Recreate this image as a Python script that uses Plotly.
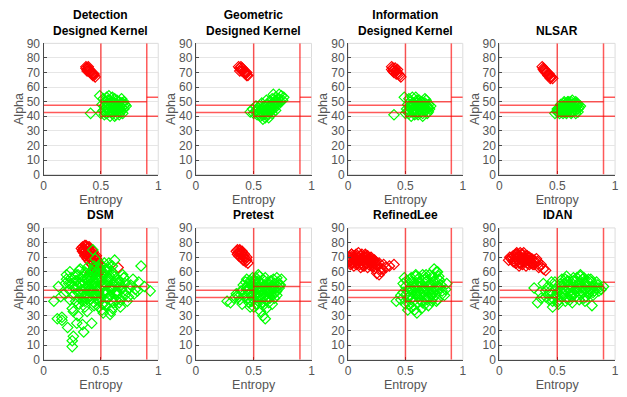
import plotly.graph_objects as go

# ---------------- data ----------------
titles = ["Detection<br>Designed Kernel", "Geometric<br>Designed Kernel",
          "Information<br>Designed Kernel", "NLSAR", "DSM", "Pretest", "RefinedLee", "IDAN"]
x_ticks = [0, 0.5, 1]
x_tick_labels = ["0", "0.5", "1"]
y_ticks = [0, 10, 20, 30, 40, 50, 60, 70, 80, 90]

# H/alpha zone boundaries: (H start, H end, alpha) and vertical H lines
h_bounds = [0.5, 0.9]
alpha_bounds = [(0.0, 0.5, 42.5), (0.0, 0.5, 47.5), (0.5, 0.9, 50.0), (0.5, 1.0, 40.0), (0.9, 1.0, 53.0)]

# Detection Designed Kernel
det_red_h = [0.37, 0.38, 0.39, 0.38, 0.40, 0.41, 0.40, 0.42, 0.43, 0.42, 0.44, 0.45, 0.39, 0.41, 0.43, 0.37, 0.44]
det_red_a = [74, 72, 73, 71, 71, 70, 72, 69, 69, 70, 68, 67, 74, 71, 68, 73, 69]
det_green_h = [0.52, 0.53, 0.54, 0.55, 0.56, 0.57, 0.58, 0.59, 0.60, 0.61, 0.62, 0.63, 0.64, 0.65, 0.66, 0.67,
               0.68, 0.69, 0.70, 0.71, 0.55, 0.58, 0.62, 0.66, 0.53, 0.57, 0.60, 0.64, 0.68, 0.72, 0.51, 0.56,
               0.61, 0.66, 0.54, 0.59, 0.63, 0.67, 0.70, 0.52, 0.41, 0.49, 0.50,
               0.53, 0.55, 0.57, 0.59, 0.61, 0.63, 0.65, 0.67, 0.69, 0.56, 0.60, 0.64, 0.68, 0.54, 0.58, 0.62,
               0.66, 0.70, 0.57, 0.63]
det_green_a = [44, 47, 50, 42, 45, 48, 51, 43, 46, 49, 52, 41, 44, 47, 50, 43,
               46, 49, 45, 48, 53, 40, 40, 41, 41, 54, 53, 51, 52, 47, 48, 51,
               44, 45, 46, 47, 48, 47, 50, 52, 42, 54, 42,
               43, 46, 43, 50, 46, 44, 50, 45, 42, 49, 42, 48, 49, 44, 47, 49,
               43, 47, 45, 46]

# Geometric Designed Kernel
geo_red_h = [0.37, 0.38, 0.39, 0.40, 0.41, 0.42, 0.43, 0.44, 0.45, 0.38, 0.40, 0.42, 0.44, 0.39, 0.43]
geo_red_a = [74, 73, 72, 71, 72, 70, 69, 68, 68, 71, 73, 71, 70, 74, 70]
geo_green_h = [0.47, 0.49, 0.50, 0.52, 0.53, 0.54, 0.55, 0.56, 0.57, 0.58, 0.59, 0.60, 0.60, 0.61, 0.62, 0.63,
               0.64, 0.64, 0.65, 0.66, 0.67, 0.68, 0.69, 0.70, 0.71, 0.72, 0.73, 0.74, 0.76, 0.58, 0.63, 0.66,
               0.69, 0.55, 0.52, 0.57, 0.61, 0.67, 0.75, 0.62, 0.70, 0.65,
               0.54, 0.56, 0.58, 0.60, 0.62, 0.64, 0.66, 0.68, 0.70, 0.72, 0.59, 0.61, 0.63, 0.65, 0.67, 0.57,
               0.55, 0.53, 0.69, 0.71]
geo_green_a = [43, 45, 42, 44, 41, 46, 43, 40, 45, 42, 47, 39, 44, 48, 41, 46,
               50, 43, 48, 52, 45, 50, 53, 47, 52, 55, 50, 54, 53, 38, 39, 42,
               44, 47, 47, 49, 51, 55, 51, 45, 49, 46,
               42, 44, 46, 42, 48, 46, 49, 47, 50, 52, 41, 45, 43, 45, 48, 43,
               41, 44, 51, 49]

# Information Designed Kernel
inf_red_h = [0.38, 0.39, 0.40, 0.41, 0.42, 0.43, 0.44, 0.45, 0.39, 0.41, 0.43, 0.40, 0.42, 0.46, 0.38]
inf_red_a = [74, 73, 72, 71, 71, 70, 69, 68, 71, 73, 72, 70, 69, 67, 72]
inf_green_h = [0.51, 0.52, 0.53, 0.54, 0.55, 0.56, 0.57, 0.58, 0.59, 0.60, 0.61, 0.62, 0.63, 0.64, 0.65, 0.66,
               0.67, 0.68, 0.69, 0.70, 0.71, 0.72, 0.53, 0.56, 0.59, 0.62, 0.65, 0.68, 0.55, 0.58, 0.61, 0.64,
               0.67, 0.70, 0.57, 0.60, 0.63, 0.66, 0.40, 0.49, 0.50,
               0.53, 0.55, 0.57, 0.59, 0.61, 0.63, 0.65, 0.67, 0.69, 0.56, 0.60, 0.64, 0.68, 0.54, 0.58, 0.62,
               0.66, 0.70, 0.52, 0.63]
inf_green_a = [45, 48, 42, 50, 46, 44, 49, 41, 47, 51, 43, 48, 45, 50, 42, 47,
               49, 44, 46, 48, 45, 47, 52, 53, 53, 51, 40, 51, 40, 44, 41, 46,
               52, 43, 47, 49, 48, 45, 41, 53, 42,
               44, 47, 43, 50, 46, 43, 49, 45, 42, 49, 42, 47, 48, 46, 45, 49,
               44, 46, 43, 46]

# NLSAR
nls_red_h = [0.37, 0.38, 0.39, 0.40, 0.41, 0.42, 0.43, 0.44, 0.45, 0.46, 0.38, 0.40, 0.42, 0.44, 0.39, 0.43]
nls_red_a = [74, 73, 72, 71, 70, 69, 68, 67, 67, 66, 72, 70, 68, 66, 71, 69]
nls_green_h = [0.48, 0.50, 0.51, 0.52, 0.53, 0.54, 0.55, 0.56, 0.57, 0.58, 0.59, 0.60, 0.61, 0.62, 0.63, 0.64,
               0.65, 0.66, 0.67, 0.68, 0.69, 0.53, 0.56, 0.59, 0.62, 0.65, 0.68, 0.55, 0.58, 0.61, 0.64, 0.67,
               0.57, 0.60, 0.63, 0.66, 0.50, 0.54, 0.58, 0.62, 0.66, 0.70,
               0.55, 0.57, 0.59, 0.61, 0.63, 0.65, 0.56, 0.60, 0.64, 0.67, 0.62, 0.58, 0.54, 0.52, 0.66, 0.60,
               0.56, 0.51, 0.68, 0.63]
nls_green_a = [42, 43, 45, 42, 46, 44, 47, 43, 48, 45, 49, 44, 47, 50, 43, 46,
               49, 44, 47, 45, 46, 48, 49, 50, 45, 45, 43, 42, 42, 48, 48, 48,
               46, 47, 51, 50, 45, 43, 44, 42, 42, 47,
               45, 44, 46, 45, 47, 45, 47, 48, 48, 49, 43, 43, 45, 44, 46, 50,
               50, 43, 48, 44]

# DSM
dsm_red_h = [0.33, 0.34, 0.35, 0.36, 0.37, 0.38, 0.39, 0.40, 0.41, 0.42, 0.43, 0.44, 0.45, 0.46, 0.47, 0.48,
             0.35, 0.37, 0.39, 0.41, 0.43, 0.45, 0.47, 0.36, 0.38, 0.40, 0.42, 0.44, 0.46, 0.49, 0.34, 0.37,
             0.40, 0.43, 0.46, 0.50, 0.65, 0.41, 0.44,
             0.35, 0.37, 0.39, 0.41, 0.43, 0.45, 0.47, 0.44, 0.42, 0.40, 0.38, 0.36, 0.46, 0.48, 0.34, 0.49]
dsm_red_a = [76, 77, 75, 78, 74, 76, 73, 75, 72, 73, 70, 71, 68, 69, 66, 64,
             73, 72, 70, 69, 67, 65, 63, 71, 69, 67, 65, 63, 61, 62, 74, 77,
             77, 74, 71, 61, 63, 60, 60,
             76, 78, 77, 74, 72, 70, 68, 66, 68, 71, 73, 74, 64, 66, 75, 60]
dsm_green_h = [0.25, 0.26, 0.25, 0.21, 0.29, 0.35, 0.34, 0.42, 0.12, 0.16, 0.16, 0.09, 0.23, 0.13, 0.85, 0.93,
               0.83, 0.74, 0.67, 0.60, 0.44, 0.31, 0.34, 0.18, 0.20, 0.22, 0.24, 0.26, 0.28, 0.30, 0.32, 0.34,
               0.36, 0.38, 0.40, 0.42, 0.44, 0.46, 0.48, 0.50, 0.52, 0.54, 0.56, 0.58, 0.60, 0.62, 0.64, 0.66,
               0.68, 0.70, 0.72, 0.76, 0.80, 0.19, 0.23, 0.27, 0.31, 0.35, 0.39, 0.43, 0.47, 0.51, 0.55, 0.59,
               0.63, 0.67, 0.71, 0.75, 0.79, 0.25, 0.29, 0.33, 0.37, 0.41, 0.45, 0.49, 0.53, 0.57, 0.61, 0.65,
               0.69, 0.73, 0.28, 0.32, 0.36, 0.40, 0.44, 0.48, 0.52, 0.56, 0.60, 0.64, 0.38, 0.42, 0.46, 0.50,
               0.54, 0.58, 0.62, 0.57, 0.53, 0.49, 0.45, 0.43, 0.47, 0.51, 0.55, 0.59, 0.63, 0.67, 0.71, 0.78,
               0.82, 0.88, 0.15, 0.26, 0.30, 0.38, 0.52, 0.58, 0.66,
               0.30, 0.32, 0.34, 0.36, 0.38, 0.40, 0.42, 0.44, 0.46, 0.48, 0.50, 0.52, 0.54, 0.56, 0.58, 0.60,
               0.31, 0.33, 0.35, 0.37, 0.39, 0.41, 0.43, 0.45, 0.47, 0.49, 0.51, 0.53, 0.55, 0.57, 0.59, 0.61,
               0.32, 0.36, 0.40, 0.44, 0.48, 0.52, 0.56, 0.60, 0.64, 0.68, 0.50, 0.46, 0.42, 0.38, 0.34, 0.30,
               0.26, 0.22, 0.20, 0.24, 0.28, 0.62, 0.66, 0.70, 0.52, 0.48, 0.44, 0.40, 0.36, 0.56]
dsm_green_a = [13, 16, 9, 22, 25, 19, 24, 25, 28, 29, 27, 40, 60, 50, 64, 47,
               53, 43, 36, 35, 37, 38, 40, 45, 55, 48, 52, 44, 58, 50, 46, 54,
               49, 56, 47, 52, 45, 50, 55, 42, 60, 47, 53, 44, 58, 50, 46, 54,
               49, 56, 47, 51, 48, 52, 41, 49, 61, 43, 51, 57, 48, 38, 62, 49,
               41, 51, 44, 49, 45, 35, 54, 44, 59, 41, 53, 40, 45, 66, 39, 55,
               58, 40, 40, 52, 36, 48, 62, 36, 51, 42, 64, 47, 43, 56, 41, 59,
               37, 50, 68, 55, 66, 63, 69, 75, 44, 34, 60, 33, 46, 41, 52, 55,
               47, 50, 43, 33, 30, 33, 32, 31, 39,
               58, 62, 57, 60, 63, 58, 61, 64, 59, 62, 65, 58, 61, 63, 57, 60,
               52, 48, 53, 45, 50, 55, 47, 52, 44, 49, 54, 46, 51, 56, 48, 53,
               42, 40, 43, 39, 41, 38, 42, 40, 44, 48, 57, 55, 50, 55, 51, 46,
               50, 52, 58, 56, 54, 57, 52, 56, 50, 46, 44, 47, 43, 46]

# Pretest
pre_red_h = [0.35, 0.36, 0.37, 0.38, 0.39, 0.40, 0.41, 0.42, 0.43, 0.44, 0.45, 0.37, 0.39, 0.41, 0.43, 0.36,
             0.38, 0.40, 0.42, 0.44]
pre_red_a = [74, 75, 73, 74, 72, 73, 71, 70, 69, 68, 66, 71, 70, 68, 67, 72, 75, 74, 72, 70]
pre_green_h = [0.27, 0.30, 0.33, 0.36, 0.38, 0.40, 0.42, 0.44, 0.46, 0.48, 0.50, 0.52, 0.54, 0.56, 0.58, 0.60,
               0.62, 0.64, 0.66, 0.68, 0.70, 0.72, 0.74, 0.40, 0.43, 0.46, 0.49, 0.52, 0.55, 0.58, 0.61, 0.64,
               0.67, 0.70, 0.45, 0.48, 0.51, 0.54, 0.57, 0.60, 0.63, 0.66, 0.69, 0.47, 0.50, 0.53, 0.56, 0.59,
               0.62, 0.65, 0.58, 0.60, 0.56, 0.61, 0.35, 0.44, 0.50, 0.54, 0.60, 0.66, 0.72, 0.52,
               0.45, 0.47, 0.49, 0.51, 0.53, 0.55, 0.57, 0.59, 0.61, 0.63, 0.65, 0.67, 0.69, 0.71, 0.44, 0.46,
               0.48, 0.50, 0.52, 0.54, 0.56, 0.58, 0.60, 0.62, 0.64, 0.66, 0.68, 0.70, 0.42, 0.50, 0.55, 0.60,
               0.65, 0.58, 0.52, 0.47, 0.73, 0.41, 0.39, 0.37]
pre_green_a = [40, 39, 42, 44, 41, 47, 43, 50, 45, 52, 41, 48, 54, 44, 50, 46,
               53, 42, 49, 52, 47, 51, 55, 38, 53, 39, 56, 45, 57, 37, 51, 47,
               55, 44, 48, 44, 54, 40, 47, 56, 39, 50, 46, 36, 49, 38, 52, 43,
               48, 45, 30, 28, 33, 35, 45, 55, 36, 58, 41, 38, 49, 51,
               42, 46, 50, 53, 45, 49, 52, 43, 47, 51, 54, 45, 49, 53, 48, 52,
               40, 44, 56, 42, 47, 55, 50, 41, 46, 51, 42, 56, 45, 48, 53, 44,
               48, 39, 38, 54, 51, 51, 47, 43]

# RefinedLee
rl_red_h = [0.01, 0.02, 0.03, 0.04, 0.05, 0.06, 0.07, 0.08, 0.09, 0.10, 0.11, 0.12, 0.13, 0.14, 0.15, 0.16,
            0.17, 0.18, 0.19, 0.20, 0.21, 0.22, 0.23, 0.24, 0.02, 0.05, 0.08, 0.11, 0.14, 0.17, 0.20, 0.23,
            0.03, 0.06, 0.09, 0.12, 0.15, 0.18, 0.21, 0.04, 0.10, 0.16, 0.22, 0.26, 0.28, 0.25, 0.30, 0.33,
            0.36, 0.40, 0.27, 0.29, 0.31,
            0.00, 0.02, 0.04, 0.06, 0.08, 0.10, 0.12, 0.14, 0.16, 0.18, 0.20, 0.22, 0.01, 0.03, 0.07, 0.11,
            0.13, 0.15, 0.19, 0.25, 0.27, 0.24]
rl_red_a = [68, 70, 66, 71, 69, 67, 72, 68, 70, 65, 71, 69, 67, 70, 66, 68,
            71, 65, 67, 69, 64, 66, 68, 63, 65, 64, 66, 63, 64, 63, 70, 62,
            72, 71, 73, 72, 71, 69, 65, 67, 68, 66, 67, 64, 62, 59, 62, 63,
            64, 65, 58, 60, 65,
            67, 68, 66, 69, 71, 68, 66, 68, 70, 67, 66, 68, 70, 72, 65, 71,
            64, 72, 69, 65, 66, 67]
rl_green_h = [0.42, 0.46, 0.48, 0.50, 0.52, 0.54, 0.56, 0.58, 0.60, 0.62, 0.64, 0.66, 0.68, 0.70, 0.72, 0.74,
              0.76, 0.78, 0.80, 0.82, 0.85, 0.86, 0.51, 0.55, 0.59, 0.63, 0.67, 0.71, 0.75, 0.79, 0.53, 0.57,
              0.61, 0.65, 0.69, 0.73, 0.77, 0.81, 0.58, 0.60, 0.55, 0.75, 0.78, 0.49, 0.52, 0.64, 0.70, 0.84,
              0.62, 0.68, 0.72, 0.66, 0.56, 0.74,
              0.52, 0.54, 0.56, 0.58, 0.60, 0.62, 0.64, 0.66, 0.68, 0.70, 0.72, 0.74, 0.76, 0.78, 0.80, 0.82,
              0.53, 0.57, 0.61, 0.65, 0.69, 0.73, 0.77, 0.55, 0.59, 0.63, 0.67, 0.71, 0.75, 0.79, 0.50, 0.48,
              0.46, 0.51, 0.62, 0.66, 0.70, 0.74, 0.58, 0.54]
rl_green_a = [40, 44, 52, 38, 47, 55, 42, 50, 45, 53, 40, 48, 56, 43, 51, 46,
              54, 41, 49, 45, 48, 52, 54, 36, 57, 45, 38, 58, 49, 55, 43, 52,
              39, 58, 47, 40, 60, 51, 34, 32, 36, 62, 60, 56, 34, 35, 37, 44,
              50, 53, 45, 44, 48, 42,
              42, 48, 53, 45, 51, 56, 44, 50, 58, 46, 52, 57, 44, 50, 54, 47,
              38, 40, 43, 39, 41, 45, 40, 56, 58, 52, 55, 49, 53, 57, 50, 46,
              41, 45, 47, 46, 51, 48, 49, 44]

# IDAN
idn_red_h = [0.08, 0.10, 0.12, 0.13, 0.14, 0.15, 0.16, 0.17, 0.18, 0.19, 0.20, 0.21, 0.22, 0.23, 0.24, 0.25,
             0.26, 0.27, 0.28, 0.29, 0.30, 0.11, 0.14, 0.17, 0.20, 0.23, 0.26, 0.15, 0.18, 0.21, 0.24, 0.31,
             0.33, 0.35, 0.38, 0.40, 0.32, 0.36, 0.12,
             0.12, 0.14, 0.16, 0.18, 0.20, 0.22, 0.24, 0.26, 0.28, 0.17, 0.19, 0.21, 0.25, 0.30, 0.09, 0.13,
             0.34]
idn_red_a = [68, 69, 71, 67, 70, 72, 68, 71, 66, 70, 72, 67, 69, 71, 66, 68,
             70, 67, 69, 65, 68, 70, 66, 64, 65, 64, 65, 73, 73, 73, 71, 66,
             67, 64, 62, 61, 69, 65, 67,
             69, 72, 70, 69, 67, 70, 68, 67, 66, 66, 72, 69, 70, 65, 70, 67,
             63]
idn_green_h = [0.30, 0.33, 0.35, 0.38, 0.40, 0.42, 0.44, 0.46, 0.48, 0.50, 0.52, 0.54, 0.56, 0.58, 0.60, 0.62,
               0.64, 0.66, 0.68, 0.70, 0.72, 0.74, 0.76, 0.78, 0.80, 0.82, 0.84, 0.86, 0.88, 0.90, 0.45, 0.49,
               0.53, 0.57, 0.61, 0.65, 0.69, 0.73, 0.77, 0.81, 0.85, 0.51, 0.55, 0.59, 0.63, 0.67, 0.71, 0.75,
               0.79, 0.46, 0.80, 0.36, 0.43, 0.58, 0.62, 0.70, 0.74,
               0.44, 0.48, 0.52, 0.56, 0.60, 0.64, 0.68, 0.72, 0.76, 0.80, 0.84, 0.46, 0.50, 0.54, 0.58, 0.62,
               0.66, 0.70, 0.74, 0.78, 0.82, 0.86, 0.53, 0.57, 0.61, 0.65, 0.69, 0.73, 0.77, 0.81, 0.49, 0.55,
               0.63, 0.67, 0.71, 0.75, 0.79, 0.59, 0.51, 0.40]
idn_green_a = [49, 39, 46, 52, 43, 50, 47, 36, 53, 44, 41, 55, 48, 42, 51, 45,
               56, 43, 49, 57, 46, 52, 54, 48, 50, 47, 53, 49, 48, 50, 53, 48,
               52, 40, 47, 53, 41, 56, 45, 44, 51, 38, 45, 54, 39, 47, 50, 43,
               55, 40, 37, 42, 41, 57, 43, 58, 40,
               45, 51, 47, 52, 49, 54, 51, 55, 50, 53, 49, 42, 46, 43, 47, 44,
               48, 45, 48, 46, 50, 47, 50, 55, 41, 45, 53, 42, 55, 46, 43, 49,
               50, 56, 49, 52, 48, 53, 40, 47]

red_h = [det_red_h, geo_red_h, inf_red_h, nls_red_h, dsm_red_h, pre_red_h, rl_red_h, idn_red_h]
red_a = [det_red_a, geo_red_a, inf_red_a, nls_red_a, dsm_red_a, pre_red_a, rl_red_a, idn_red_a]
green_h = [det_green_h, geo_green_h, inf_green_h, nls_green_h, dsm_green_h, pre_green_h, rl_green_h, idn_green_h]
green_a = [det_green_a, geo_green_a, inf_green_a, nls_green_a, dsm_green_a, pre_green_a, rl_green_a, idn_green_a]

# ---------------- layout ----------------
W, H = 627, 397
col_px = [(41, 157), (195, 312), (349, 465), (502, 619)]
row_px = [(37.7, 173.7), (229, 365.7)]

FONT = "Liberation Sans, Arial, sans-serif"
fig = go.Figure()
layout = dict(width=W, height=H, margin=dict(l=0, r=0, t=0, b=0),
              paper_bgcolor="white", plot_bgcolor="white", showlegend=False,
              font=dict(family=FONT, size=12, color="#404040"))
annotations = []
shapes = []
line_col = "rgba(255,0,0,0.65)"

for i in range(8):
    r, c = divmod(i, 4)
    n = i + 1
    xa = "x" if n == 1 else f"x{n}"
    ya = "y" if n == 1 else f"y{n}"
    xk = "xaxis" if n == 1 else f"xaxis{n}"
    yk = "yaxis" if n == 1 else f"yaxis{n}"
    x0, x1 = col_px[c]
    yt, yb = row_px[r]
    layout[xk] = dict(domain=[x0 / W, x1 / W], range=[0, 1], anchor=ya,
                      tickvals=x_ticks, ticktext=x_tick_labels, showgrid=True,
                      gridcolor="#e6e6e6", gridwidth=1, zeroline=False,
                      showline=True, linecolor="#4a4a4a", linewidth=1.2,
                      ticks="inside", ticklen=3, tickcolor="#4a4a4a",
                      tickfont=dict(size=12, color="#555555"),
                      title=dict(text="Entropy", standoff=0,
                                 font=dict(size=12.5, color="#555555")))
    layout[yk] = dict(domain=[(H - yb) / H, (H - yt) / H], range=[0, 90], anchor=xa,
                      tickvals=y_ticks, showgrid=True, gridcolor="#e6e6e6", gridwidth=1,
                      zeroline=False, showline=True, linecolor="#4a4a4a", linewidth=1.2,
                      ticks="inside", ticklen=3, tickcolor="#4a4a4a",
                      tickfont=dict(size=12, color="#555555"),
                      title=dict(text="Alpha", standoff=0,
                                 font=dict(size=12.5, color="#555555")))
    shapes.append(dict(type="rect", xref=f"{xa} domain", yref=f"{ya} domain",
                       x0=0, x1=1, y0=0, y1=1, line=dict(color="#dcdcdc", width=1), layer="below"))
    fig.add_trace(go.Scatter(x=red_h[i], y=red_a[i], mode="markers", xaxis=xa, yaxis=ya,
                             marker=dict(symbol="diamond-open", size=8, color="#ff0000",
                                         line=dict(width=1.2, color="#ff0000"))))
    fig.add_trace(go.Scatter(x=green_h[i], y=green_a[i], mode="markers", xaxis=xa, yaxis=ya,
                             marker=dict(symbol="diamond-open", size=8, color="#00ff00",
                                         line=dict(width=1.2, color="#00ff00"))))
    for hb in h_bounds:
        shapes.append(dict(type="line", xref=xa, yref=ya, x0=hb, x1=hb, y0=0, y1=90,
                           line=dict(color=line_col, width=1.5), layer="above"))
    for (h0, h1, al) in alpha_bounds:
        shapes.append(dict(type="line", xref=xa, yref=ya, x0=h0, x1=h1, y0=al, y1=al,
                           line=dict(color=line_col, width=1.5), layer="above"))
    annotations.append(dict(text=f"<b>{titles[i]}</b>", xref="paper", yref="paper",
                            x=(x0 + x1) / 2 / W, y=(H - yt + 4) / H, xanchor="center", yanchor="bottom",
                            showarrow=False, font=dict(size=12, color="#000000", family=FONT)))

layout["annotations"] = annotations
layout["shapes"] = shapes
fig.update_layout(**layout)
fig.write_html("out.html", config={"displayModeBar": False},
               post_script="document.body.style.margin='0';document.body.style.overflow='hidden';")
